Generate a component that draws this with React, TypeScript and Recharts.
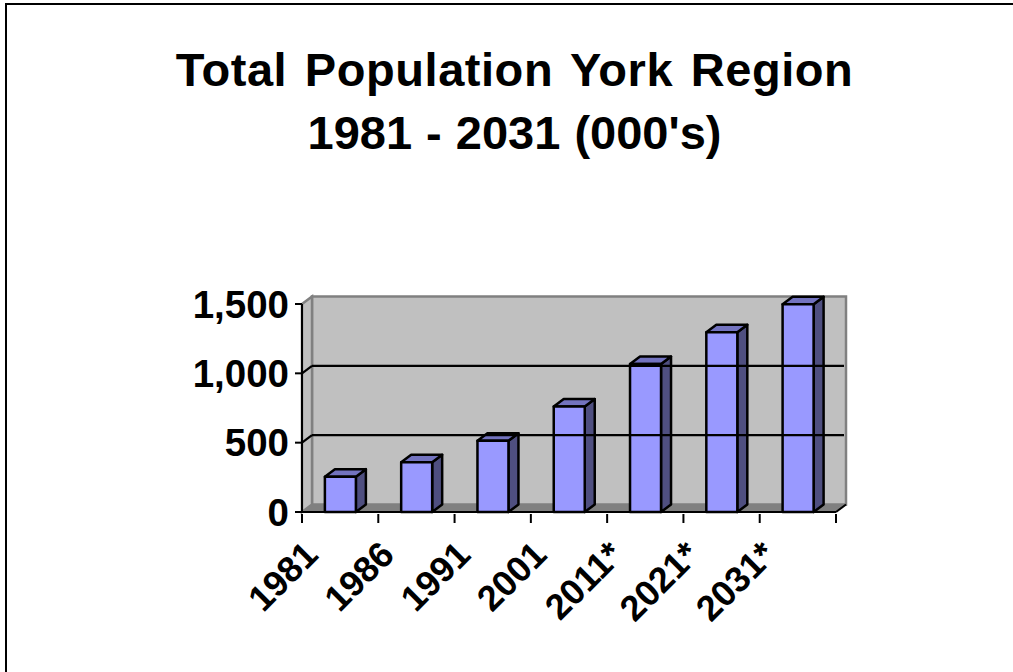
import React from 'react';
import { BarChart, Bar, XAxis, YAxis, ReferenceArea, ReferenceLine } from 'recharts';

const years = ['1981', '1986', '1991', '2001', '2011*', '2021*', '2031*'];
const population = [255, 358, 514, 760, 1067, 1296, 1498];
const yTicks = [0, 500, 1000, 1500];
const gridValues = [500, 1000];

const data = years.map((year, i) => ({ year, population: population[i] }));

const FONT = "'Liberation Sans', Arial, sans-serif";
const DX = 10;
const DY = 7.5;
const HALF_BAND = 534 / 14; // ticks sit between the categories, not under them

const Wall = ({ x, y, width, height }: any) => {
  const bottom = y + height;
  const right = x + width;
  return (
    <g>
      <polygon points={`${x + DX},${y - DY} ${right + DX},${y - DY} ${right + DX},${bottom - DY} ${x + DX},${bottom - DY}`} fill="#c0c0c0" stroke="#808080" strokeWidth={2.5} />
      <polygon points={`${x},${y} ${x + DX},${y - DY} ${x + DX},${bottom - DY} ${x},${bottom}`} fill="#c0c0c0" stroke="#808080" strokeWidth={2.5} />
      <polygon points={`${x},${bottom} ${x + DX},${bottom - DY} ${right + DX},${bottom - DY} ${right},${bottom}`} fill="#808080" stroke="#808080" strokeWidth={1} />
      <line x1={right} y1={bottom} x2={right + DX} y2={bottom - DY} stroke="#000" strokeWidth={2} />
    </g>
  );
};

const GridLine = (props: any) => {
  const { x1, y1, x2, y2 } = props;
  return (
    <g stroke="#000" strokeWidth={2.2} fill="none">
      <line x1={x1} y1={y1} x2={x1 + DX} y2={y1 - DY} />
      <line x1={x1 + DX} y1={y1 - DY} x2={x2 + DX - 2} y2={y2 - DY} />
    </g>
  );
};

const Bar3D = ({ x, y, width, height }: any) => {
  const bottom = y + height;
  const right = x + width;
  return (
    <g stroke="#000" strokeWidth={2.5} strokeLinejoin="round">
      <polygon points={`${right},${y} ${right + DX},${y - DY} ${right + DX},${bottom - DY} ${right},${bottom}`} fill="#4f4f80" />
      <polygon points={`${x},${y} ${x + DX},${y - DY} ${right + DX},${y - DY} ${right},${y}`} fill="#7373bf" />
      <rect x={x} y={y} width={width} height={height} fill="#9999ff" />
    </g>
  );
};

const YearTick = ({ x, y, payload, index }: any) => {
  const tx = x - 27;
  const ty = y + 29;
  return (
    <g>
      <line x1={x - HALF_BAND} y1={y - 7} x2={x - HALF_BAND} y2={y + 2} stroke="#000" strokeWidth={2} />
      {index === years.length - 1 && (
        <line x1={x + HALF_BAND} y1={y - 7} x2={x + HALF_BAND} y2={y + 2} stroke="#000" strokeWidth={2} />
      )}
      <text
        x={tx}
        y={ty}
        transform={`rotate(-45 ${tx} ${ty})`}
        textAnchor="end"
        dominantBaseline="middle"
        fontFamily={FONT}
        fontWeight={700}
        fontSize={36}
        fill="#000"
      >
        {payload.value}
      </text>
    </g>
  );
};

const App = () => (
  <div style={{ position: 'absolute', left: 0, top: 0, width: 1013, height: 672, background: '#fff', overflow: 'hidden' }}>
    <div style={{ position: 'absolute', left: 5, top: 3, width: 1100, height: 800, borderLeft: '2px solid #000', borderTop: '2px solid #000' }} />
    <div
      style={{
        position: 'absolute',
        left: 0,
        width: 1029,
        top: 38,
        textAlign: 'center',
        fontFamily: FONT,
        fontWeight: 700,
        fontSize: 47,
        lineHeight: '63px',
        color: '#000',
      }}
    >
      <div style={{ letterSpacing: 0.55, wordSpacing: 4 }}>Total Population York Region</div>
      <div style={{ wordSpacing: 1 }}>1981 - 2031 (000's)</div>
    </div>
    <div style={{ position: 'absolute', left: 0, top: 0 }}>
      <BarChart
        width={1013}
        height={672}
        data={data}
        barCategoryGap="30%"
        margin={{ top: 304, right: 177, bottom: 100, left: 180 }}
      >
        <XAxis
          dataKey="year"
          interval={0}
          height={60}
          tick={<YearTick />}
          tickLine={false}
          tickSize={7}
          axisLine={{ stroke: '#000', strokeWidth: 2 }}
        />
        <YAxis
          domain={[0, 1500]}
          ticks={yTicks}
          width={122}
          interval={0}
          tickFormatter={(v: number) => v.toLocaleString('en-US')}
          tick={{ fontFamily: FONT, fontWeight: 700, fontSize: 38.5, fill: '#000' }}
          tickLine={{ stroke: '#000', strokeWidth: 2 }}
          tickSize={7}
          tickMargin={6}
          axisLine={{ stroke: '#000', strokeWidth: 2 }}
        />
        <ReferenceArea y1={0} y2={1500} shape={<Wall />} ifOverflow="visible" fillOpacity={1} />
        {gridValues.map((v) => (
          <ReferenceLine key={v} y={v} shape={<GridLine />} ifOverflow="visible" />
        ))}
        <Bar dataKey="population" shape={<Bar3D />} isAnimationActive={false} />
      </BarChart>
    </div>
  </div>
);

export default App;
